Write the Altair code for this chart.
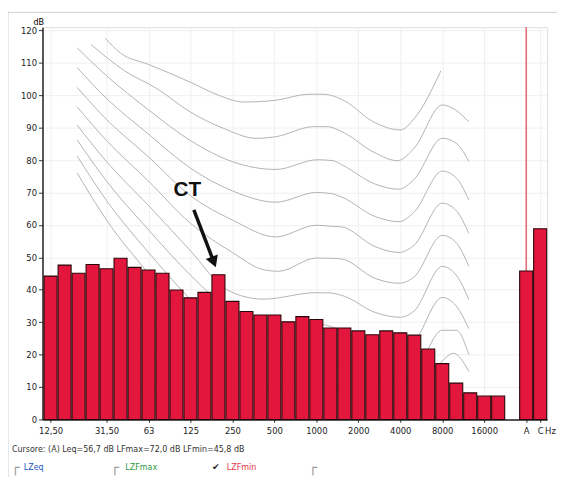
import altair as alt
import pandas as pd

# ---- data ----
bands = ["12,5", "16", "20", "25", "31,5", "40", "50", "63", "80", "100", "125", "160",
         "200", "250", "315", "400", "500", "630", "800", "1000", "1250", "1600", "2000",
         "2500", "3150", "4000", "5000", "6300", "8000", "10000", "12500", "16000", "20000"]
lzfmin = [44.2, 47.6, 45.1, 47.8, 46.5, 49.7, 46.9, 46.1, 45.1, 39.9, 37.5, 39.2,
          44.6, 36.4, 33.3, 32.2, 32.2, 30.1, 31.7, 30.8, 28.2, 28.2, 27.3,
          26.1, 27.3, 26.7, 26.0, 21.7, 17.2, 11.2, 8.2, 7.2, 7.2]
weighted_names = ["A", "C"]
weighted_vals = [45.8, 58.8]
weighted_slots = [34, 35]

tick_slots = [0, 4, 7, 10, 13, 16, 19, 22, 25, 28, 31, 34, 35]
tick_text = ["12,50", "31,50", "63", "125", "250", "500", "1000", "2000", "4000",
             "8000", "16000", "A", "C"]
y_ticks = [0, 10, 20, 30, 40, 50, 60, 70, 80, 90, 100, 110, 120]

# equal-loudness contours (band slot, dB)
contour_x = {
    100: [3.9, 5, 7, 10, 12, 13.8, 16, 18.5, 19.5, 21, 23, 25, 26, 27.9],
    90: [2.9, 5.3, 7.65, 10, 12.35, 14.7, 16.1, 18.8, 19.8, 20.8, 23.2, 24.8, 26, 28, 29, 29.9],
    80: [1.9, 4, 7, 10, 13, 16.1, 19.1, 20.2, 20.8, 23.2, 24.9, 26, 28, 29, 29.9],
    70: [1.9, 4, 7, 10, 13, 16.1, 19, 20, 20.8, 23.2, 24.9, 26, 28, 29, 29.9],
    60: [1.9, 4, 7, 10, 13, 16.1, 19, 20, 20.8, 23.2, 24.9, 26, 28, 29, 29.9],
    50: [1.9, 4, 7, 10, 13, 15.2, 16.3, 19, 20, 20.8, 23.2, 24.9, 26, 28, 29, 29.9],
    40: [1.9, 4, 7, 10, 12.6, 15.2, 19, 20, 21, 23.2, 25, 26, 28, 29, 29.9],
    30: [1.9, 4, 7, 10, 13, 16, 19, 23, 25, 26, 28, 29, 29.9],
    20: [1.9, 4, 7, 10, 13, 16, 19, 23, 25, 26, 28, 29, 29.9],
    10: [1.9, 4, 7, 10, 13, 16, 19, 23, 25, 26, 28, 28.8, 29.9],
}
contour_y = {
    100: [117.6, 113, 109.5, 104, 100, 97.9, 98.4, 100.3, 100.3, 98.3, 92, 89.3, 92.8, 107.5],
    90: [115.6, 107.5, 101.9, 94.8, 89.8, 86.7, 87.2, 90.3, 90.3, 88.8, 82.2, 79.8, 83.7, 97, 95.3, 91.8],
    80: [114.6, 106, 95.5, 86, 79.5, 77.1, 80.1, 79.8, 78.6, 72.6, 71, 74.1, 86.7, 85.2, 79.6],
    70: [108.5, 99, 88, 77.5, 70.5, 67, 70, 69.7, 68.6, 62.6, 61, 64, 76.6, 74.5, 67.7],
    60: [102.4, 92.5, 81, 69, 61.5, 56.3, 59.9, 59.6, 59.4, 53.3, 51.5, 53.8, 66.7, 64.4, 57.4],
    50: [96.4, 86, 73.5, 60.5, 51.5, 46.2, 45.7, 49.8, 49.7, 49.5, 43.5, 42, 44, 56.8, 54.5, 47.2],
    40: [90.8, 79.5, 66, 52, 40, 37.1, 39.1, 39, 38, 33, 31.5, 33.5, 47.2, 44.5, 37],
    30: [86.2, 73.5, 58.5, 44.5, 33, 27, 29.5, 23, 21, 24, 37.6, 35, 28],
    20: [81.2, 67.5, 51.5, 37, 25, 18, 20, 13, 11.5, 14, 27.5, 27.5, 20],
    10: [76, 61.5, 45, 30, 17, 9, 10.5, 4, 2.5, 5, 18, 20.4, 14.8],
}

# annotation
ct_text = "CT"
ct_label = (9.77, 70.8)
ct_arrow_from = (10.24, 64.6)
ct_arrow_to = (11.62, 49.1)

status_text = "Cursore: (A) Leq=56,7 dB  LFmax=72,0 dB  LFmin=45,8 dB"
legend_names = ["LZeq", "LZFmax", "LZFmin"]
legend_colors = ["#2456c4", "#2f9a45", "#e8334a"]
unit_text = "Hz"

# ---- tables ----
bars = pd.DataFrame({"slot": list(range(len(bands))), "band": bands, "db": lzfmin})
wbars = pd.DataFrame({"slot": weighted_slots, "band": weighted_names, "db": weighted_vals})
allbars = pd.concat([bars, wbars], ignore_index=True)

rows = []
for phon in contour_x:
    for k, (xx, yy) in enumerate(zip(contour_x[phon], contour_y[phon])):
        rows.append({"phon": phon, "ord": k, "slot": xx, "db": yy})
contours = pd.DataFrame(rows)

label_expr = " : ".join(
    [f"datum.value == {s} ? '{t}'" for s, t in zip(tick_slots, tick_text)]
) + " : ''"

XDOM = [-0.58, 35.5]
YDOM = [0, 121]
FONT = "Liberation Sans Narrow, DejaVu Sans Condensed, Liberation Sans, sans-serif"

xscale = alt.Scale(domain=XDOM, nice=False, zero=False, padding=0)
yscale = alt.Scale(domain=YDOM, nice=False, zero=False, padding=0)

xaxis = alt.Axis(values=tick_slots, labelExpr=label_expr, title=None,
                 grid=True, gridColor="#f0f0f0", tickSize=3,
                 labelFontSize=9.5, labelFont=FONT, labelColor="#222",
                 labelPadding=3, domainColor="#222", domainWidth=1.5,
                 tickColor="#333", labelFlush=False, labelOverlap=False)
yaxis = alt.Axis(values=y_ticks, title="dB", titleAngle=0, titleAlign="right",
                 titleBaseline="bottom", titleX=1, titleY=-1,
                 titleFontSize=9, titleFontWeight="normal", titleFont=FONT,
                 grid=True, gridColor="#f0f0f0", tickSize=4,
                 labelFontSize=9.5, labelFont=FONT, labelColor="#222",
                 labelPadding=2, domainColor="#222", domainWidth=1.5,
                 tickColor="#333", labelOverlap=False, labelFlush=False)


def X(field):
    return alt.X(field, type="quantitative", scale=xscale, axis=xaxis)


def Y(field):
    return alt.Y(field, type="quantitative", scale=yscale, axis=yaxis)


contour_layer = alt.Chart(contours).mark_line(
    interpolate="monotone", color="#aaaaaa", strokeWidth=0.9
).encode(x=X("slot"), y=Y("db"), detail="phon:N", order="ord:Q")

red_rule = alt.Chart(pd.DataFrame({"slot": [weighted_slots[0]]})).mark_rule(
    color="#e0404a", strokeWidth=1.2
).encode(x=X("slot"), y=alt.value(0), y2=alt.value(398))

bar_layer = alt.Chart(allbars).mark_bar(
    width=13.2, color="#e3173e", stroke="#2a0508", strokeWidth=1.1
).encode(x=X("slot"), y=Y("db"))

ann = pd.DataFrame({"slot": [ct_arrow_from[0]], "db": [ct_arrow_from[1]],
                    "slot2": [ct_arrow_to[0]], "db2": [ct_arrow_to[1]],
                    "lx": [ct_label[0]], "ly": [ct_label[1]], "t": [ct_text]})
arrow_line = alt.Chart(ann).mark_rule(color="#111", strokeWidth=3.5).encode(
    x=X("slot"), y=Y("db"), x2="slot2:Q", y2="db2:Q")
arrow_head = alt.Chart(ann).mark_point(
    shape="triangle", angle=159, size=170, filled=True, color="#111", opacity=1
).encode(x=X("slot2"), y=Y("db2"))
ct_label_layer = alt.Chart(ann).mark_text(
    fontSize=21, fontWeight="bold", font="Liberation Sans, Arial, sans-serif", color="#111"
).encode(x=X("lx"), y=Y("ly"), text="t:N")

hz_layer = alt.Chart(pd.DataFrame({"slot": [36.12], "t": [unit_text]})).mark_text(
    fontSize=9.5, font=FONT, color="#222", align="right", baseline="top"
).encode(x=X("slot"), y=alt.value(404.5), text="t:N")

one = pd.DataFrame({"a": [0]})


def free_text(txt, x, y, color="#333", size=10, font=FONT):
    return alt.Chart(one).mark_text(
        text=txt, align="left", baseline="middle", fontSize=size, font=font, color=color
    ).encode(x=alt.value(x), y=alt.value(y))


footer = [
    free_text(status_text, -31, 428, color="#333", size=9),
    free_text("┌", -32, 447, color="#999", size=14, font="DejaVu Sans"),
    free_text(legend_names[0], -19, 446, color=legend_colors[0], size=9),
    free_text("┌", 69, 447, color="#999", size=14, font="DejaVu Sans"),
    free_text(legend_names[1], 84, 446, color=legend_colors[1], size=9),
    free_text("✔", 172, 446, color="#222", size=9, font="DejaVu Sans"),
    free_text(legend_names[2], 187, 446, color=legend_colors[2], size=9),
    free_text("┌", 270, 447, color="#999", size=14, font="DejaVu Sans"),
]

frame_top = alt.Chart(one).mark_rule(color="#cfcfcf", strokeWidth=1).encode(
    x=alt.value(-35), x2=alt.value(530), y=alt.value(-15))
frame_left = alt.Chart(one).mark_rule(color="#cfcfcf", strokeWidth=1).encode(
    x=alt.value(-35), y=alt.value(-15), y2=alt.value(470))

chart = alt.layer(
    frame_top, frame_left, contour_layer, red_rule, bar_layer,
    arrow_line, arrow_head, ct_label_layer, hz_layer, *footer
).properties(
    width=512, height=398,
    autosize=alt.AutoSizeParams(type="none"),
    padding={"left": 35, "top": 16, "right": 10, "bottom": 55},
).configure_view(
    stroke="#555", strokeWidth=1.5
).configure_axis(
    labelOverlap=False
).configure(background="white")

chart.save("out.html", embed_options={"renderer": "svg", "actions": False})
